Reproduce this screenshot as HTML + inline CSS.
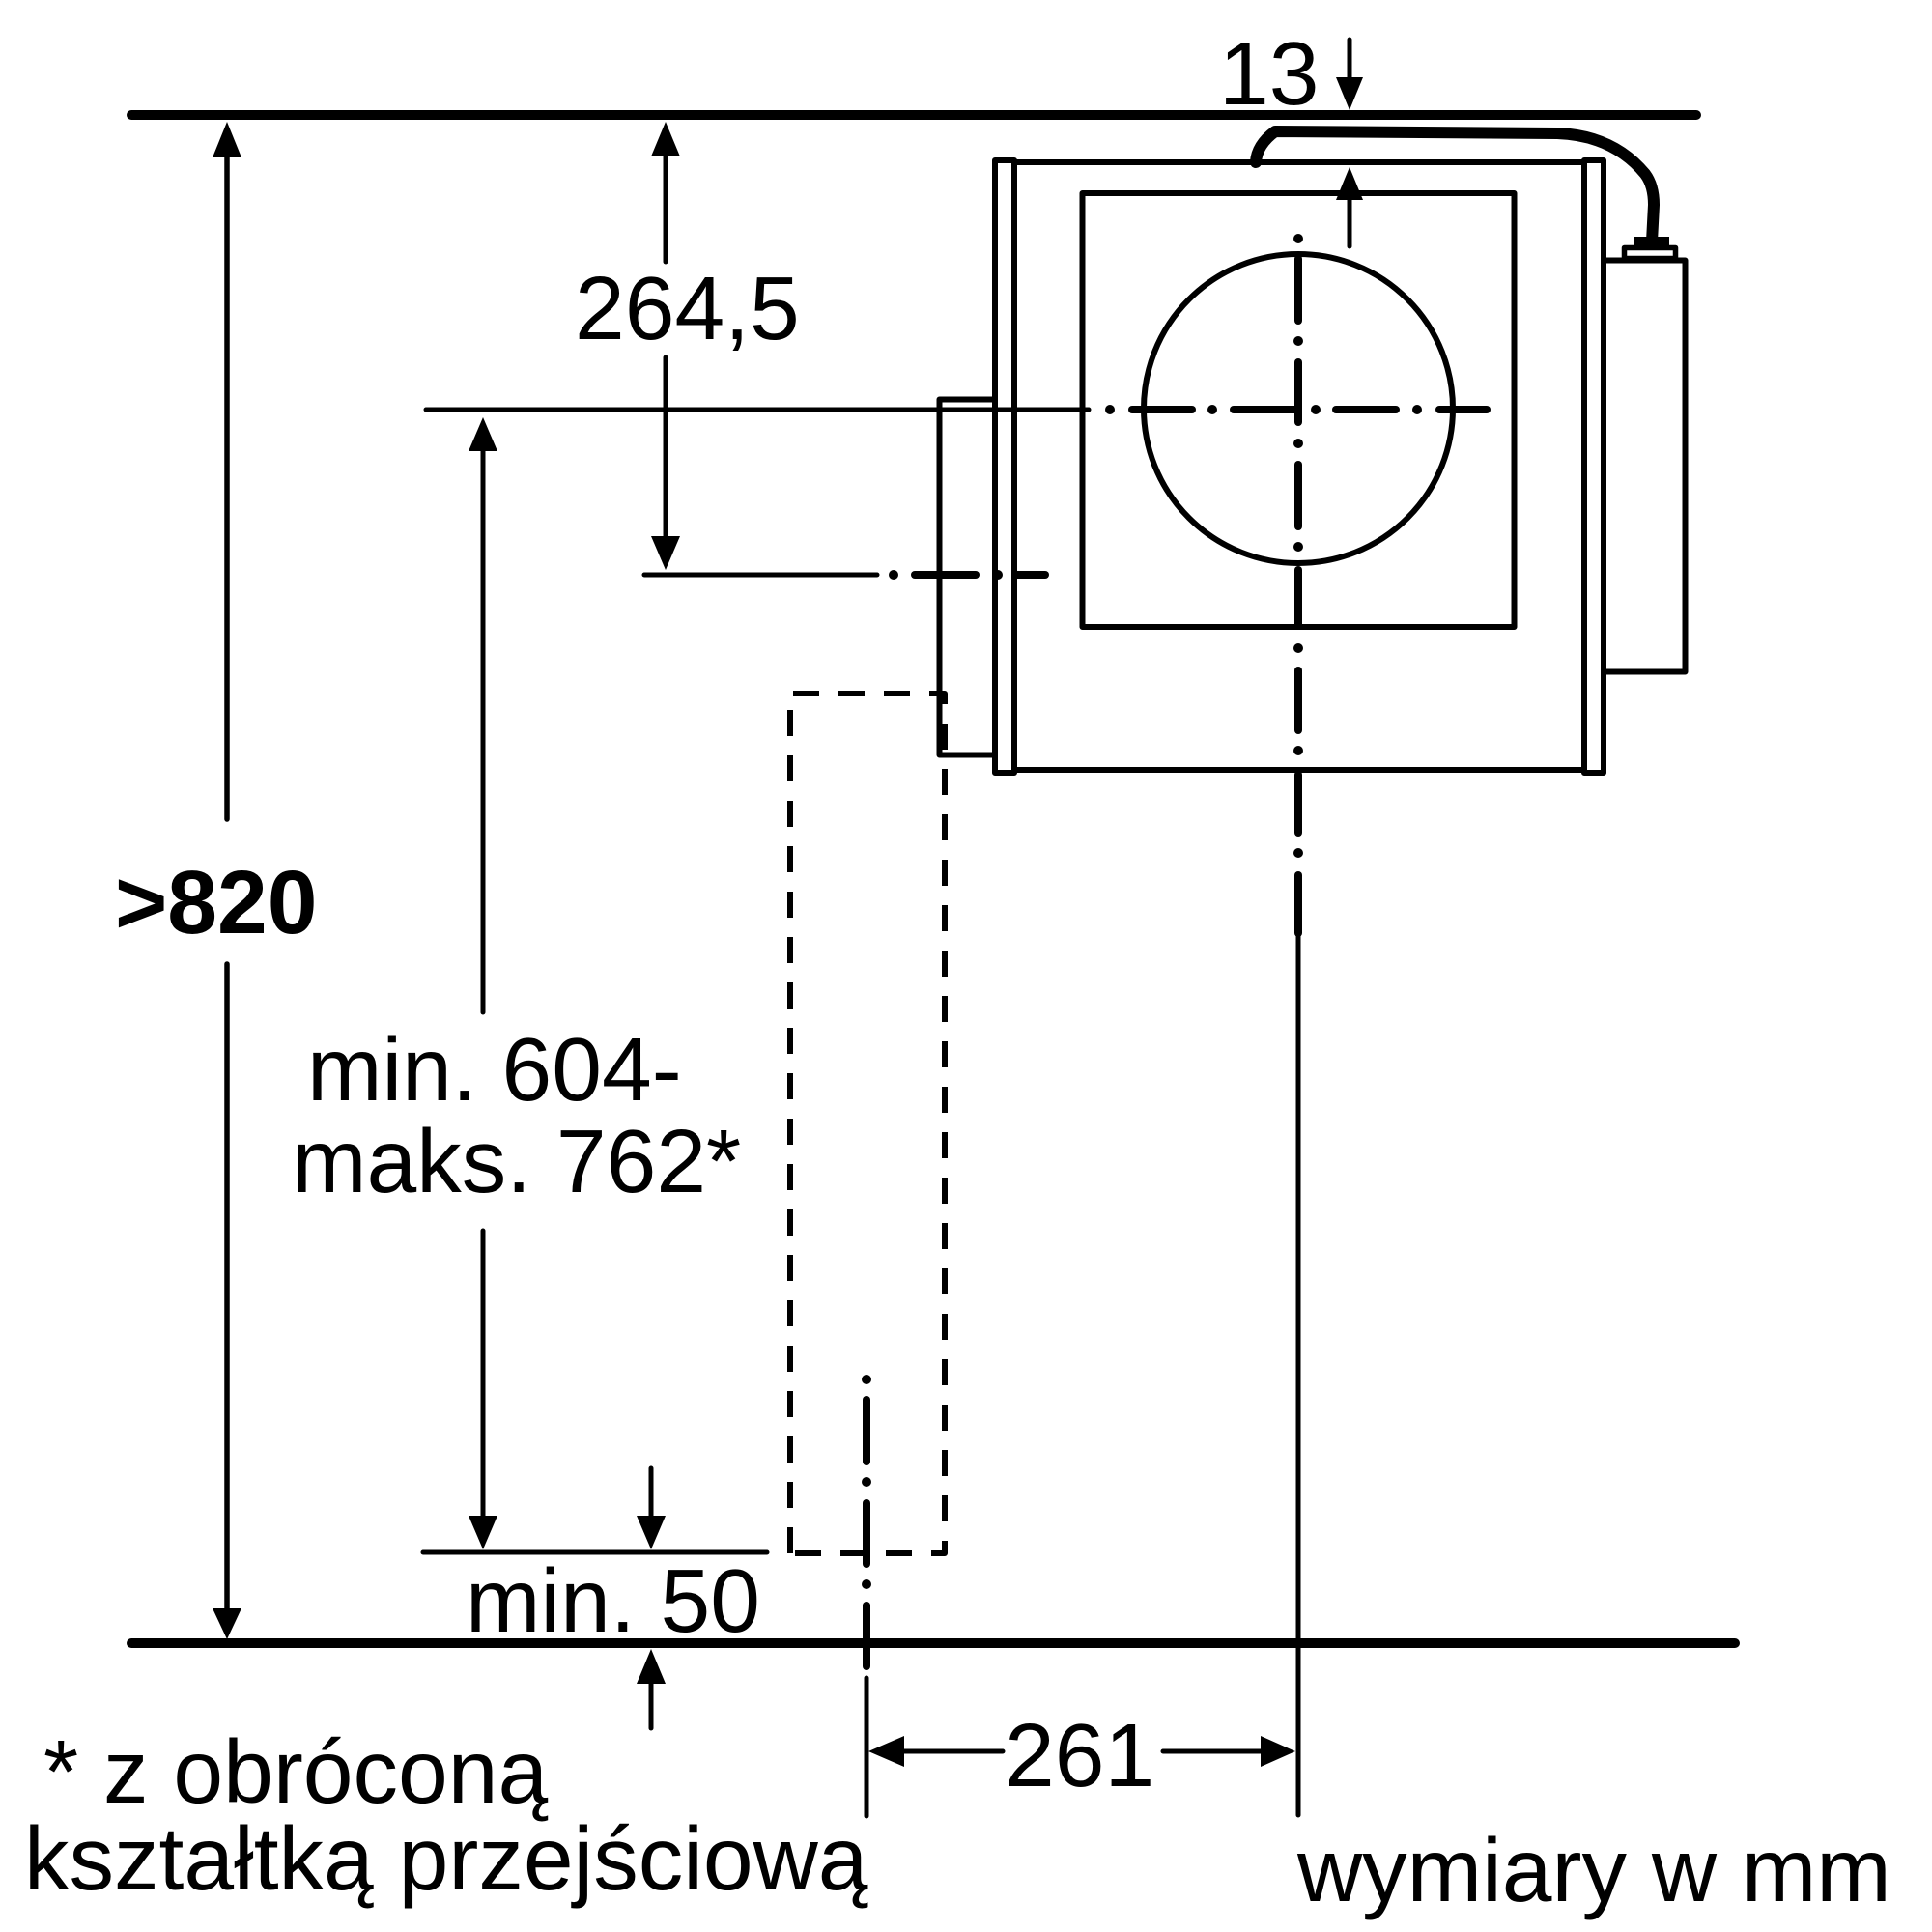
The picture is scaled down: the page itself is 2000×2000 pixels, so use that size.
<!DOCTYPE html>
<html>
<head>
<meta charset="utf-8">
<style>
html,body{margin:0;padding:0;background:#fff;}
svg{display:block;}
text{font-family:"Liberation Sans",Arial,sans-serif;fill:#000;}
</style>
</head>
<body>
<svg width="2000" height="2000" viewBox="0 0 2000 2000" xmlns="http://www.w3.org/2000/svg">
<rect width="2000" height="2000" fill="#fff"/>
<g stroke="#000" fill="none" stroke-linecap="round" stroke-linejoin="round">
  <!-- reference lines -->
  <line x1="136" y1="119" x2="1756" y2="119" stroke-width="10"/>
  <line x1="136" y1="1701" x2="1796" y2="1701" stroke-width="10"/>

  <!-- thin horizontal lines -->
  <line x1="441" y1="424" x2="1127" y2="424" stroke-width="5"/>
  <line x1="667" y1="595" x2="908" y2="595" stroke-width="5"/>
  <line x1="438" y1="1607" x2="794" y2="1607" stroke-width="5"/>

  <!-- dimension shafts -->
  <line x1="235" y1="160" x2="235" y2="848" stroke-width="5.5"/>
  <line x1="235" y1="998" x2="235" y2="1668" stroke-width="5.5"/>
  <line x1="689" y1="160" x2="689" y2="271" stroke-width="5"/>
  <line x1="689" y1="370" x2="689" y2="557" stroke-width="5"/>
  <line x1="500" y1="465" x2="500" y2="1048" stroke-width="5"/>
  <line x1="500" y1="1274" x2="500" y2="1572" stroke-width="5"/>
  <line x1="674" y1="1520" x2="674" y2="1572" stroke-width="5"/>
  <line x1="674" y1="1740" x2="674" y2="1789" stroke-width="5"/>
  <line x1="1397" y1="41" x2="1397" y2="82" stroke-width="5"/>
  <line x1="1397" y1="205" x2="1397" y2="255" stroke-width="5"/>
  <line x1="934" y1="1813" x2="1038" y2="1813" stroke-width="5"/>
  <line x1="1204" y1="1813" x2="1307" y2="1813" stroke-width="5"/>

  <!-- vertical thin lines -->
  <line x1="1344" y1="969" x2="1344" y2="1879" stroke-width="5"/>
  <line x1="897" y1="1737" x2="897" y2="1880" stroke-width="5"/>

  <!-- main box -->
  <rect x="1030" y="166" width="20" height="634" stroke-width="6"/>
  <rect x="1640" y="166" width="20" height="634" stroke-width="6"/>
  <line x1="1050" y1="168" x2="1640" y2="168" stroke-width="6"/>
  <line x1="1050" y1="797" x2="1640" y2="797" stroke-width="6"/>
  <rect x="1120.5" y="200" width="447" height="449" stroke-width="6"/>
  <circle cx="1344" cy="423" r="160" stroke-width="6"/>
  <!-- small left flange -->
  <path d="M1028,413.5 H972.5 V781.5 H1028" stroke-width="6"/>
  <!-- right box -->
  <path d="M1662,269.5 H1744.5 V695.5 H1662" stroke-width="6"/>
  <rect x="1681.5" y="256.5" width="53" height="11" stroke-width="5.5"/>
  <!-- cable -->
  <path d="M1300,168 Q1301,150 1320,136 L1612,138 Q1670,140 1703,180 Q1712,192 1712,212 L1710,250" stroke-width="12"/>

  <!-- centre lines (dash-dot) -->
  <g stroke-width="8">
    <line x1="1172" y1="424" x2="1234" y2="424"/>
    <line x1="1277" y1="424" x2="1340" y2="424"/>
    <line x1="1383" y1="424" x2="1445" y2="424"/>
    <line x1="1490" y1="424" x2="1539" y2="424"/>
    <line x1="1344" y1="268" x2="1344" y2="332"/>
    <line x1="1344" y1="375" x2="1344" y2="437"/>
    <line x1="1344" y1="481" x2="1344" y2="545"/>
    <line x1="1344" y1="590" x2="1344" y2="647"/>
    <line x1="1344" y1="694" x2="1344" y2="756"/>
    <line x1="1344" y1="802" x2="1344" y2="862"/>
    <line x1="1344" y1="906" x2="1344" y2="966"/>
    <line x1="947" y1="595" x2="1010" y2="595"/>
    <line x1="1053" y1="595" x2="1082" y2="595"/>
    <line x1="897" y1="1449" x2="897" y2="1513"/>
    <line x1="897" y1="1556" x2="897" y2="1619"/>
    <line x1="897" y1="1662" x2="897" y2="1725"/>
  </g>

  <!-- dashed rectangle -->
  <path d="M818,1608 V718 H978 V1608 Z" stroke-width="6" stroke-dasharray="27 20" stroke-linecap="butt"/>
</g>

<!-- dots -->
<g fill="#000">
  <circle cx="1149" cy="424" r="5"/>
  <circle cx="1255" cy="424" r="5"/>
  <circle cx="1362" cy="424" r="5"/>
  <circle cx="1467" cy="424" r="5"/>
  <circle cx="1344" cy="247" r="5"/>
  <circle cx="1344" cy="353" r="5"/>
  <circle cx="1344" cy="459" r="5"/>
  <circle cx="1344" cy="566" r="5"/>
  <circle cx="1344" cy="671" r="5"/>
  <circle cx="1344" cy="777" r="5"/>
  <circle cx="1344" cy="883" r="5"/>
  <circle cx="925" cy="595" r="5"/>
  <circle cx="1033" cy="595" r="5"/>
  <circle cx="897" cy="1428" r="5"/>
  <circle cx="897" cy="1534" r="5"/>
  <circle cx="897" cy="1640" r="5"/>

  <!-- connector top -->
  <rect x="1692" y="245" width="36" height="11"/>

  <!-- arrowheads -->
  <polygon points="235,126 220,163 250,163"/>
  <polygon points="235,1697 220,1665 250,1665"/>
  <polygon points="689,126 674,162 704,162"/>
  <polygon points="689,590 674,555 704,555"/>
  <polygon points="500,432 485,467 515,467"/>
  <polygon points="500,1604 485,1569 515,1569"/>
  <polygon points="674,1604 659,1569 689,1569"/>
  <polygon points="674,1707 659,1743 689,1743"/>
  <polygon points="1397,114 1383,80 1411,80"/>
  <polygon points="1397,173 1383,207 1411,207"/>
  <polygon points="899,1813 936,1797 936,1829"/>
  <polygon points="1341,1813 1305,1797 1305,1829"/>
</g>

<!-- texts -->
<text x="1262" y="108" font-size="93">13</text>
<text x="595" y="351" font-size="93">264,5</text>
<text x="119" y="966" font-size="93" font-weight="bold">&gt;820</text>
<text x="318" y="1139" font-size="93">min. 604-</text>
<text x="302" y="1234" font-size="93">maks. 762*</text>
<text x="482" y="1689" font-size="93">min. 50</text>
<text x="1040" y="1849" font-size="93">261</text>
<text x="45" y="1866" font-size="93">* z obróconą</text>
<text x="25" y="1956" font-size="93">kształtką przejściową</text>
<text x="1343" y="1968" font-size="93">wymiary w mm</text>
</svg>
</body>
</html>
